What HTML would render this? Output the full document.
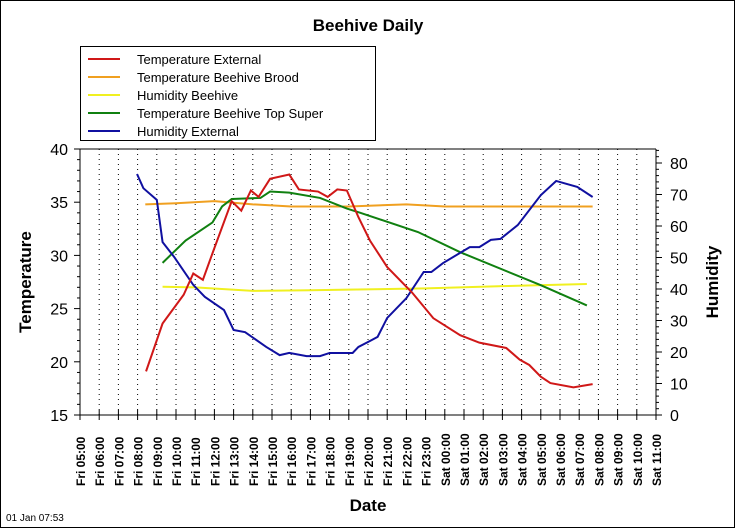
<!DOCTYPE html>
<html><head><meta charset="utf-8"><style>
body{margin:0;background:#fff}
svg{display:block;font-family:"Liberation Sans",Arial,sans-serif}
</style></head><body>
<svg width="735" height="529" viewBox="0 0 735 529">
<rect x="0.5" y="0.5" width="734" height="527" fill="#fff" stroke="#000"/>
<text x="368" y="31" text-anchor="middle" font-size="17" font-weight="bold">Beehive Daily</text>
<g id="legend"></g>
<g id="grid"></g>
<g id="axes"></g>
<g id="series"></g>
<text x="0" y="0" transform="translate(31,282) rotate(-90)" text-anchor="middle" font-size="17" font-weight="bold">Temperature</text>
<text x="0" y="0" transform="translate(718,282) rotate(-90)" text-anchor="middle" font-size="17" font-weight="bold">Humidity</text>
<text x="368" y="511" text-anchor="middle" font-size="17" font-weight="bold">Date</text>
<text x="6" y="521" font-size="10">01 Jan 07:53</text>
</svg>
<script>
const xLabels=["Fri 05:00","Fri 06:00","Fri 07:00","Fri 08:00","Fri 09:00","Fri 10:00","Fri 11:00","Fri 12:00","Fri 13:00","Fri 14:00","Fri 15:00","Fri 16:00","Fri 17:00","Fri 18:00","Fri 19:00","Fri 20:00","Fri 21:00","Fri 22:00","Fri 23:00","Sat 00:00","Sat 01:00","Sat 02:00","Sat 03:00","Sat 04:00","Sat 05:00","Sat 06:00","Sat 07:00","Sat 08:00","Sat 09:00","Sat 10:00","Sat 11:00"];
const tempTicks=[15,20,25,30,35,40];
const humTicks=[0,10,20,30,40,50,60,70,80];
const tempExtH=[3.44,4.3,5.4,5.9,6.4,6.9,7.9,8.4,8.9,9.3,9.9,10.9,11.4,12.4,12.9,13.4,13.9,14.5,15.1,16.0,17.3,18.4,19.8,20.8,22.2,22.9,23.4,24.0,24.5,25.7,26.7];
const tempExtV=[19.1,23.6,26.3,28.3,27.7,30.2,35.1,34.2,36.1,35.5,37.2,37.6,36.2,36.0,35.5,36.2,36.1,33.6,31.4,28.9,26.5,24.1,22.5,21.8,21.3,20.2,19.7,18.6,18.0,17.6,17.9];
const broodH=[3.4,5,7,9,11,14,17,19,26.7];
const broodV=[34.8,34.9,35.1,34.8,34.6,34.6,34.8,34.6,34.6];
const humHiveH=[4.3,6,9,12,14,18,22,26.4];
const humHiveV=[40.7,40.5,39.4,39.6,39.8,40.2,40.9,41.6];
const topH=[4.3,5.5,6.9,7.4,7.9,9.4,9.9,10.9,12.5,13.9,14.6,17.6,19.8,24.0,26.4];
const topV=[29.3,31.4,33.1,34.6,35.3,35.4,36.0,35.9,35.4,34.4,34.0,32.2,30.3,27.2,25.3];
const humExtH=[2.97,3.3,4.0,4.3,4.9,5.9,6.5,7.5,8.0,8.6,9.7,10.4,10.9,11.8,12.5,13.0,14.2,14.5,15.1,15.5,16.0,17.0,17.9,18.3,18.9,20.3,20.8,21.4,21.9,22.8,24.0,24.8,25.9,26.7];
const humExtV=[76.5,72,68.3,54.9,50.2,41.3,37.5,33.3,27,26.3,21.6,19,19.7,18.7,18.7,19.7,19.7,21.6,23.5,24.8,30.8,37.1,45.4,45.4,48.2,53.3,53.3,55.6,55.9,60.3,69.8,74.3,72.4,69.2];

const L=80,R=656,T=149,B=415;
const xs=h=>L+h*(R-L)/30;
const yT=v=>B-(v-15)*(B-T)/25;
const yH=v=>B-v*(415-163)/80;
const NS="http://www.w3.org/2000/svg";
function mk(tag,attrs,parent,txt){const e=document.createElementNS(NS,tag);for(const k in attrs)e.setAttribute(k,attrs[k]);if(txt!==undefined)e.textContent=txt;parent.appendChild(e);return e;}
const grid=document.getElementById('grid'),axes=document.getElementById('axes'),ser=document.getElementById('series'),leg=document.getElementById('legend');
for(let i=1;i<30;i++){const l=mk('line',{x1:xs(i),x2:xs(i),y1:T,y2:B,stroke:'#000','stroke-dasharray':'1 4'},grid);

}
mk('line',{x1:L,x2:L,y1:T,y2:B,stroke:'#000'},axes);
mk('line',{x1:R,x2:R,y1:T,y2:B,stroke:'#000'},axes);
mk('line',{x1:L,x2:R,y1:B,y2:B,stroke:'#000'},axes);
mk('line',{x1:L,x2:R,y1:T,y2:T,stroke:'#000'},axes);
xLabels.forEach((s,i)=>{const x=xs(i);mk('line',{x1:x,x2:x,y1:B-5,y2:B+5,stroke:'#000'},axes);
const t=mk('text',{transform:`translate(${x+5},486) rotate(-90)`,'font-size':12,'font-weight':'bold'},axes,s);

});
for(let v=15;v<=40;v+=1){const y=yT(v);mk('line',{x1:L-(v%5?3:6),x2:L,y1:y,y2:y,stroke:'#000'},axes);}
tempTicks.forEach(v=>{const t=mk('text',{x:L-12,y:yT(v)+6,'text-anchor':'end','font-size':16},axes,v);

});
for(let v=0;v<=84;v+=2){const y=yH(v);mk('line',{x1:R,x2:R+(v%10?3:6),y1:y,y2:y,stroke:'#000'},axes);}
humTicks.forEach(v=>{const t=mk('text',{x:R+14,y:yH(v)+6,'font-size':16},axes,v);

});
function line(H,V,ys,color,name){const p=mk('polyline',{points:H.map((h,i)=>xs(h)+','+ys(V[i])).join(' '),fill:'none',stroke:color,'stroke-width':2},ser);

}
line(broodH,broodV,yT,'#f0a020','temperature-brood-line');
line(humHiveH,humHiveV,yH,'#f0f020','humidity-beehive-line');
line(topH,topV,yT,'#108010','temperature-top-super-line');
line(humExtH,humExtV,yH,'#1010a0','humidity-external-line');
line(tempExtH,tempExtV,yT,'#d01818','temperature-external-line');
mk('rect',{x:80.5,y:46.5,width:295,height:94,fill:'#fff',stroke:'#000'},leg);
[["Temperature External",'#d01818'],["Temperature Beehive Brood",'#f0a020'],["Humidity Beehive",'#f0f020'],[" Temperature Beehive Top Super",'#108010'],["Humidity External",'#1010a0']].forEach((e,i)=>{const y=59+i*18;
const g=mk('g',{},leg);


mk('line',{x1:88,x2:120,y1:y,y2:y,stroke:e[1],'stroke-width':2},g);
mk('text',{x:137,y:y+5,'font-size':13,'xml:space':'preserve'},g,e[0]);});
</script>
</body></html>
